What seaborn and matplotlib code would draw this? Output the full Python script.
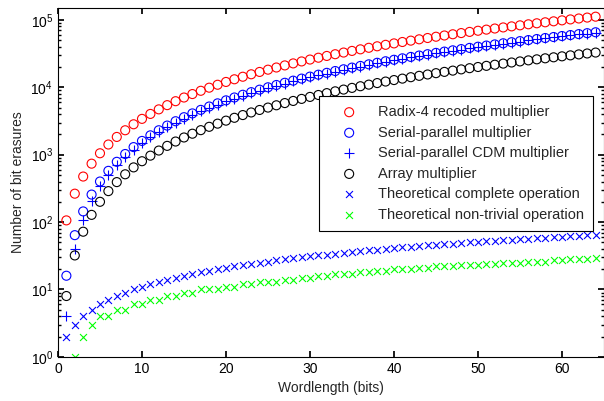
import matplotlib

matplotlib.use("Agg")
import matplotlib.pyplot as plt
import numpy as np
import seaborn as sns

# %%
wordlength = list(range(1, 65))

radix4 = [
    106, 264, 474, 736, 1050, 1416, 1834, 2304, 2826, 3400,
    4026, 4704, 5434, 6216, 7050, 7936, 8874, 9864, 10906, 12000,
    13146, 14344, 15594, 16896, 18250, 19656, 21114, 22624, 24186, 25800,
    27466, 29184, 30954, 32776, 34650, 36576, 38554, 40584, 42666, 44800,
    46986, 49224, 51514, 53856, 56250, 58696, 61194, 63744, 66346, 69000,
    71706, 74464, 77274, 80136, 83050, 86016, 89034, 92104, 95226, 98400,
    101626, 104904, 108234, 111616,
]
serial_parallel = [
    16, 64, 144, 256, 400, 576, 784, 1024, 1296, 1600,
    1936, 2304, 2704, 3136, 3600, 4096, 4624, 5184, 5776, 6400,
    7056, 7744, 8464, 9216, 10000, 10816, 11664, 12544, 13456, 14400,
    15376, 16384, 17424, 18496, 19600, 20736, 21904, 23104, 24336, 25600,
    26896, 28224, 29584, 30976, 32400, 33856, 35344, 36864, 38416, 40000,
    41616, 43264, 44944, 46656, 48400, 50176, 51984, 53824, 55696, 57600,
    59536, 61504, 63504, 65536,
]
serial_parallel_cdm = [
    4, 40, 108, 208, 340, 504, 700, 928, 1188, 1480,
    1804, 2160, 2548, 2968, 3420, 3904, 4420, 4968, 5548, 6160,
    6804, 7480, 8188, 8928, 9700, 10504, 11340, 12208, 13108, 14040,
    15004, 16000, 17028, 18088, 19180, 20304, 21460, 22648, 23868, 25120,
    26404, 27720, 29068, 30448, 31860, 33304, 34780, 36288, 37828, 39400,
    41004, 42640, 44308, 46008, 47740, 49504, 51300, 53128, 54988, 56880,
    58804, 60760, 62748, 64768,
]
array_mult = [
    8, 32, 72, 128, 200, 288, 392, 512, 648, 800,
    968, 1152, 1352, 1568, 1800, 2048, 2312, 2592, 2888, 3200,
    3528, 3872, 4232, 4608, 5000, 5408, 5832, 6272, 6728, 7200,
    7688, 8192, 8712, 9248, 9800, 10368, 10952, 11552, 12168, 12800,
    13448, 14112, 14792, 15488, 16200, 16928, 17672, 18432, 19208, 20000,
    20808, 21632, 22472, 23328, 24200, 25088, 25992, 26912, 27848, 28800,
    29768, 30752, 31752, 32768,
]
theo_complete = [
    2, 3, 4, 5, 6, 7, 8, 9, 10, 11,
    12, 13, 14, 15, 16, 17, 18, 19, 20, 21,
    22, 23, 24, 25, 26, 27, 28, 29, 30, 31,
    32, 33, 34, 35, 36, 37, 38, 39, 40, 41,
    42, 43, 44, 45, 46, 47, 48, 49, 50, 51,
    52, 53, 54, 55, 56, 57, 58, 59, 60, 61,
    62, 63, 64, 65,
]
theo_nontrivial = [
    np.nan, 1, 2, 3, 4, 4, 5, 5, 6, 6,
    7, 7, 8, 8, 9, 9, 10, 10, 10, 11,
    11, 12, 12, 13, 13, 13, 14, 14, 15, 15,
    16, 16, 17, 17, 17, 18, 18, 19, 19, 20,
    20, 20, 21, 21, 22, 22, 22, 23, 23, 23,
    24, 24, 25, 25, 25, 26, 26, 26, 27, 27,
    28, 28, 28, 29,
]

# %%
sns.set_theme(style="ticks", rc={"xtick.direction": "in", "ytick.direction": "in"})
plt.rcParams["font.family"] = ["Liberation Sans", "DejaVu Sans"]
plt.rcParams["mathtext.fontset"] = "custom"
plt.rcParams["mathtext.rm"] = "Liberation Sans"
plt.rcParams["mathtext.it"] = "Liberation Sans:italic"

fig = plt.figure(figsize=(6.04, 4.01), dpi=100)
ax = fig.add_axes([0.096, 0.11, 0.904, 0.87])

open_kw = dict(marker="o", s=42, facecolor="none", linewidth=0.8)
sns.scatterplot(x=wordlength, y=radix4, ax=ax, edgecolor="#ff0000",
                label="Radix-4 recoded multiplier", **open_kw)
sns.scatterplot(x=wordlength, y=serial_parallel, ax=ax, edgecolor="#0000ff",
                label="Serial-parallel multiplier", **open_kw)
sns.scatterplot(x=wordlength, y=serial_parallel_cdm, ax=ax, marker="+", s=45,
                color="#0000ff", linewidth=0.8, label="Serial-parallel CDM multiplier")
sns.scatterplot(x=wordlength, y=array_mult, ax=ax, edgecolor="black",
                label="Array multiplier", **open_kw)
sns.scatterplot(x=wordlength, y=theo_complete, ax=ax, marker="x", s=25,
                color="#0000ff", linewidth=0.8, label="Theoretical complete operation")
sns.scatterplot(x=wordlength, y=theo_nontrivial, ax=ax, marker="x", s=25,
                color="#00ff00", linewidth=0.8, label="Theoretical non-trivial operation")

ax.set_yscale("log")
ax.set_xlim(0, 65)
ax.set_ylim(1, 1.5e5)
ax.set_xticks([0, 10, 20, 30, 40, 50, 60])
ax.tick_params(which="both", top=True, right=True, colors="black", labelsize=10)
ax.tick_params(which="major", length=4)
ax.tick_params(which="minor", length=2)
for sp in ax.spines.values():
    sp.set_color("black")
    sp.set_linewidth(0.8)

ax.set_xlabel("Wordlength (bits)", fontsize=10)
ax.set_ylabel("Number of bit erasures", fontsize=10)

leg = ax.legend(loc="upper right", bbox_to_anchor=(0.98, 0.747), fontsize=10.5,
                frameon=True, fancybox=False, edgecolor="black", framealpha=1,
                labelspacing=0.45, handlelength=3.0, handletextpad=0.5,
                borderpad=0.6, borderaxespad=0)
leg.get_frame().set_linewidth(0.8)

plt.savefig("out.png", dpi=100)
